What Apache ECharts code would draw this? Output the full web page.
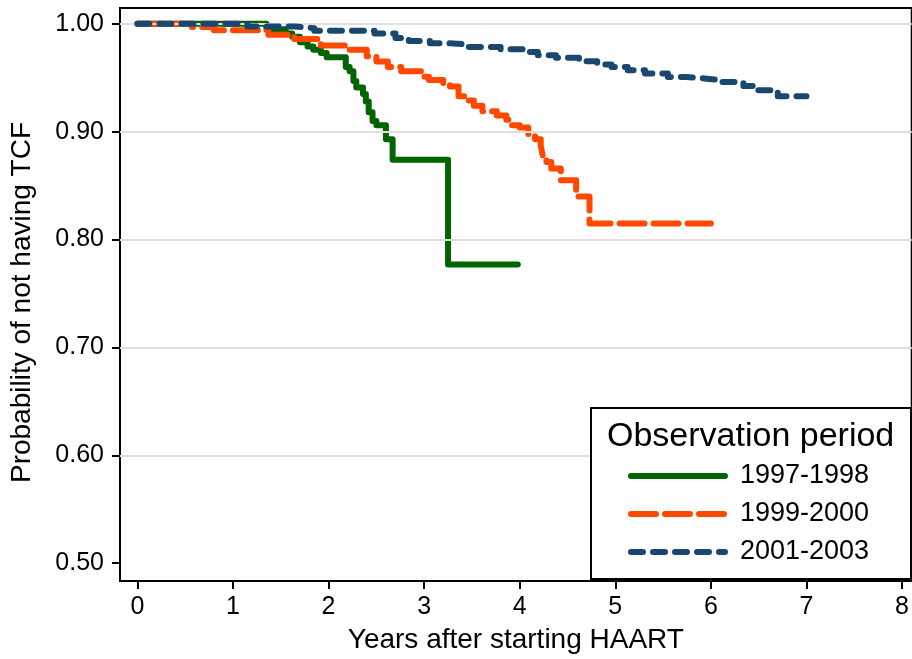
<!DOCTYPE html>
<html>
<head>
<meta charset="utf-8">
<script src="https://cdn.jsdelivr.net/npm/echarts@6/dist/echarts.min.js"></script>
<style>
    html, body { margin: 0; padding: 0; background: #fff; }
    #tcf_graph { width: 912px; height: 659px; }
</style>
</head>
<body>
<div id="tcf_graph"></div>
<script>
// tick labels
var xTicks = [0, 1, 2, 3, 4, 5, 6, 7, 8];
var yTicks = [0.5, 0.6, 0.7, 0.8, 0.9, 1.0];
var yGrid = [0.6, 0.7, 0.8, 0.9, 1.0];
var seriesNames = ['1997-1998', '1999-2000', '2001-2003'];

// 1997-1998: time of each drop (years) and survival after it
var greenT = [0, 1.35, 1.55, 1.62, 1.70, 1.78, 1.84, 1.92, 1.98, 2.18, 2.22, 2.26, 2.29, 2.36, 2.39, 2.42, 2.46, 2.50, 2.60, 2.67, 3.25, 3.98];
var greenS = [1.000, 0.995, 0.991, 0.988, 0.983, 0.979, 0.976, 0.973, 0.969, 0.960, 0.956, 0.947, 0.941, 0.935, 0.928, 0.918, 0.910, 0.906, 0.893, 0.874, 0.777, 0.777];

// 1999-2000
var orangeT = [0, 0.57, 0.80, 1.37, 1.64, 1.92, 2.22, 2.40, 2.50, 2.62, 2.76, 2.97, 3.05, 3.20, 3.27, 3.36, 3.45, 3.52, 3.61, 3.76, 3.86, 3.92, 4.00, 4.09, 4.16, 4.22, 4.24, 4.28, 4.33, 4.43, 4.59, 4.73, 6.00];
var orangeS = [1.000, 0.997, 0.994, 0.990, 0.986, 0.980, 0.976, 0.970, 0.965, 0.960, 0.956, 0.951, 0.948, 0.944, 0.942, 0.933, 0.929, 0.924, 0.919, 0.915, 0.911, 0.906, 0.904, 0.898, 0.893, 0.887, 0.878, 0.872, 0.866, 0.855, 0.840, 0.815, 0.815];

// 2001-2003
var blueT = [0, 1.15, 1.65, 1.85, 2.48, 2.70, 2.84, 3.06, 3.25, 3.44, 3.80, 4.05, 4.19, 4.38, 4.62, 4.81, 4.96, 5.13, 5.31, 5.55, 5.74, 5.93, 6.08, 6.34, 6.45, 6.70, 7.00];
var blueS = [1.000, 0.9975, 0.996, 0.9935, 0.991, 0.987, 0.984, 0.982, 0.981, 0.9786, 0.9764, 0.974, 0.971, 0.9685, 0.9653, 0.9623, 0.960, 0.957, 0.954, 0.9507, 0.9494, 0.948, 0.946, 0.9424, 0.9384, 0.933, 0.933];

function toPairs(t, s) {
    var out = [];
    for (var i = 0; i < t.length; i++) {
        out.push([t[i], s[i]]);
    }
    return out;
}

var font = 'Liberation Sans, Arial, sans-serif';

function drawGraph() {
    var tcf_graph = echarts.init(document.getElementById("tcf_graph"));
    var option = {
        backgroundColor: '#fff',
        animation: false,
        textStyle: { fontFamily: font, color: '#000' },
        grid: {
            left: 118, top: 8, width: 796, height: 578,
            show: true, borderColor: '#000', borderWidth: 2
        },
        xAxis: {
            type: 'value',
            min: -0.182, max: 8.101,
            name: 'Years after starting HAART',
            nameLocation: 'middle',
            nameGap: 45,
            nameTextStyle: { fontSize: 28, color: '#000', fontFamily: font },
            axisLine: { show: true, onZero: false, lineStyle: { color: '#000', width: 2 } },
            axisTick: { show: true, customValues: xTicks, length: 8, lineStyle: { color: '#000', width: 2 } },
            axisLabel: { customValues: xTicks, margin: 14, fontSize: 25, color: '#000', fontFamily: font },
            splitLine: { show: false }
        },
        yAxis: {
            type: 'value',
            min: 0.4835, max: 1.0147,
            name: 'Probability of not having TCF',
            nameLocation: 'middle',
            nameGap: 84,
            nameTextStyle: { fontSize: 28, color: '#000', fontFamily: font, padding: [0, 16, 0, 0] },
            axisLine: { show: true, onZero: false, lineStyle: { color: '#000', width: 2 } },
            axisTick: { show: true, customValues: yTicks, length: 8, lineStyle: { color: '#000', width: 2 } },
            axisLabel: {
                customValues: yTicks, margin: 16, fontSize: 25, color: '#000', fontFamily: font,
                formatter: function (v) { return v.toFixed(2); }
            },
            splitLine: { show: false }
        },
        legend: {
            data: seriesNames,
            orient: 'vertical',
            left: 628, top: 457,
            itemWidth: 94, itemHeight: 1,
            itemGap: 0, padding: 0,
            z: 8,
            itemStyle: { opacity: 0 },
            lineStyle: { width: 6, cap: 'round' },
            textStyle: { fontSize: 27, lineHeight: 38, color: '#000', fontFamily: font, padding: [0, 0, 0, 10] }
        },
        graphic: [{
            type: 'rect', z: 6,
            shape: { x: 591, y: 408, width: 320, height: 171 },
            style: { fill: '#fff', stroke: '#000', lineWidth: 2 }
        }, {
            type: 'text', z: 7,
            x: 607, y: 437,
            style: { text: 'Observation period', fontSize: 34, fontFamily: font, fill: '#000', verticalAlign: 'middle' }
        }],
        series: [{
            name: 'grid',
            type: 'line',
            data: [],
            z: 1,
            markLine: {
                silent: true, symbol: 'none', label: { show: false },
                lineStyle: { color: '#e0e0e0', width: 2, type: 'solid' },
                data: yGrid.map(function (v) { return { yAxis: v }; })
            }
        }, {
            name: seriesNames[0],
            type: 'line', step: 'end', showSymbol: false, symbol: 'none', z: 3,
            color: '#006400',
            lineStyle: { color: '#006400', width: 6, cap: 'round', join: 'round' },
            data: toPairs(greenT, greenS)
        }, {
            name: seriesNames[1],
            type: 'line', step: 'end', showSymbol: false, symbol: 'none', z: 4,
            color: '#ff4800',
            lineStyle: { color: '#ff4800', width: 6, type: [25, 9], cap: 'round', join: 'round' },
            data: toPairs(orangeT, orangeS)
        }, {
            name: seriesNames[2],
            type: 'line', step: 'end', showSymbol: false, symbol: 'none', z: 5,
            color: '#1a476f',
            lineStyle: { color: '#1a476f', width: 6, type: [12, 10], cap: 'round', join: 'round' },
            data: toPairs(blueT, blueS)
        }]
    };
    tcf_graph.setOption(option);
}
drawGraph();
</script>
</body>
</html>
